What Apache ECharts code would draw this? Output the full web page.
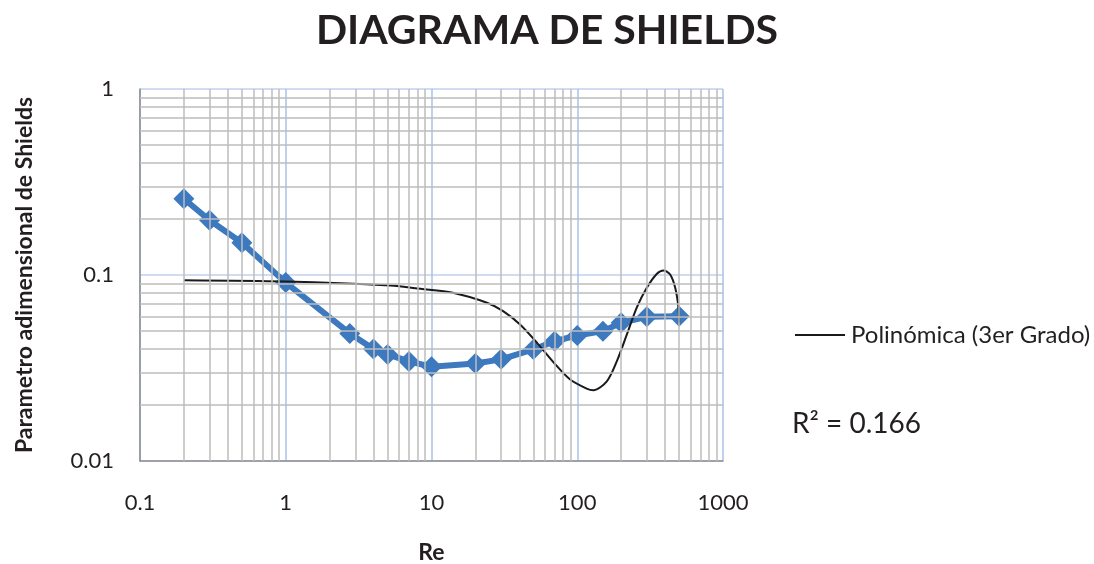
<!DOCTYPE html>
<html>
<head>
<meta charset="utf-8">
<script src="https://cdn.jsdelivr.net/npm/echarts@6/dist/echarts.min.js"></script>
<style>
html,body{margin:0;padding:0;background:#fff;overflow:hidden;}
#c{width:1094px;height:564px;}
</style>
</head>
<body>
<div id="c"></div>
<script>
// ---- data ----
const reValues = [0.2, 0.3, 0.5, 1, 2.75, 4, 5, 7, 10, 20, 30, 50, 70, 100, 150, 200, 300, 500];
const shieldsValues = [0.257, 0.197, 0.149, 0.091, 0.0485, 0.040, 0.0374, 0.0343, 0.0321, 0.0334, 0.0352, 0.0398, 0.0441, 0.0473, 0.0499, 0.0554, 0.0596, 0.0601];

// trend line (3rd degree polynomial) points
const trendRe = [0.2, 1, 5.2, 8.4, 14, 24, 31, 40.5, 53, 69, 89, 116, 129, 160, 187, 219, 256, 300, 352, 391, 434, 470, 495, 500];
const trendY  = [0.0938, 0.0923, 0.0878, 0.0843, 0.0802, 0.0709, 0.0639, 0.0542, 0.0432, 0.0338, 0.0275, 0.0245, 0.0240, 0.0269, 0.0344, 0.0479, 0.0667, 0.0853, 0.1015, 0.1057, 0.1006, 0.0853, 0.0667, 0.0556];

const xTickLabels = ['0.1', '1', '10', '100', '1000'];
const yTickLabels = ['0.01', '0.1', '1'];
const xMinorGrid = [0.2,0.3,0.4,0.5,0.6,0.7,0.8,0.9, 2,3,4,5,6,7,8,9, 20,30,40,50,60,70,80,90, 200,300,400,500,600,700,800,900];
const yMinorGrid = [0.02,0.03,0.04,0.05,0.06,0.07,0.08,0.09, 0.2,0.3,0.4,0.5,0.6,0.7,0.8,0.9];

const titleText = 'DIAGRAMA DE SHIELDS';
const xTitle = 'Re';
const yTitle = 'Parametro adimensional de Shields';
const trendName = 'Polinómica (3er Grado)';
const r2Text = 'R² = 0.166';

const FONT = 'Lato, "Open Sans", sans-serif';
const chart = echarts.init(document.getElementById('c'), null, {renderer: 'canvas', width: 1094, height: 564});

const minorLines = [];
xMinorGrid.forEach(v => minorLines.push({xAxis: v}));
yMinorGrid.forEach(v => minorLines.push({yAxis: v}));

chart.setOption({
  animation: false,
  backgroundColor: '#ffffff',
  title: {
    text: titleText,
    left: 'center',
    top: 5,
    textStyle: {fontFamily: FONT, fontWeight: 'bold', fontSize: 41, color: '#231F20'}
  },
  legend: {
    data: [{name: trendName, icon: 'rect'}],
    left: 790,
    top: 318,
    itemWidth: 50,
    itemHeight: 2,
    itemGap: 0,
    textStyle: {fontFamily: FONT, fontSize: 24, color: '#231F20', padding: [0, 0, 0, 1]}
  },
  grid: {left: 140, top: 89, width: 583, height: 372, containLabel: false, outerBoundsMode: 'none'},
  xAxis: {
    type: 'log',
    logBase: 10,
    min: 0.1,
    max: 1000,
    name: xTitle,
    nameLocation: 'middle',
    nameGap: 80,
    nameTextStyle: {fontFamily: FONT, fontWeight: 'bold', fontSize: 23, color: '#231F20'},
    axisLine: {show: true, lineStyle: {color: '#8E8E8E', width: 1.5}},
    axisTick: {show: false},
    axisLabel: {
      margin: 31,
      fontFamily: FONT, fontSize: 22, color: '#231F20',
      formatter: (v, i) => xTickLabels[i]
    },
    splitLine: {show: true, lineStyle: {color: '#A9C2E6', width: 1.5}}
  },
  yAxis: {
    type: 'log',
    logBase: 10,
    min: 0.01,
    max: 1,
    name: yTitle,
    nameLocation: 'middle',
    nameGap: 104,
    nameRotate: 90,
    nameTextStyle: {fontFamily: FONT, fontWeight: 'bold', fontSize: 23, color: '#231F20'},
    axisLine: {show: true, lineStyle: {color: '#8E8E8E', width: 1.5}},
    axisTick: {show: false},
    axisLabel: {
      margin: 26,
      fontFamily: FONT, fontSize: 22, color: '#231F20',
      formatter: (v, i) => yTickLabels[i]
    },
    splitLine: {show: true, lineStyle: {color: '#BFD1EC', width: 1.5}}
  },
  graphic: [{
    type: 'text',
    left: 792,
    top: 410,
    style: {text: r2Text, fontFamily: FONT, fontSize: 28, fill: '#231F20'}
  }],
  series: [
    {
      name: 'grid',
      type: 'line',
      z: 1,
      data: [[1, 0.1]],
      showSymbol: false,
      symbol: 'none',
      silent: true,
      lineStyle: {width: 0},
      markLine: {
        silent: true,
        symbol: ['none', 'none'],
        label: {show: false},
        lineStyle: {color: '#BDBDBD', width: 1.5, type: 'solid'},
        data: minorLines
      }
    },
    {
      name: 'Shields',
      type: 'line',
      z: 3,
      data: reValues.map((x, i) => [x, shieldsValues[i]]),
      symbol: 'diamond',
      symbolSize: 21,
      lineStyle: {color: '#3D79BE', width: 6},
      itemStyle: {color: '#3D79BE'}
    },
    {
      name: trendName,
      type: 'line',
      z: 4,
      data: trendRe.map((x, i) => [x, trendY[i]]),
      smooth: 0.3,
      symbol: 'none',
      lineStyle: {color: '#1A1A1A', width: 2},
      itemStyle: {color: '#1A1A1A'}
    }
  ]
});
</script>
</body>
</html>
